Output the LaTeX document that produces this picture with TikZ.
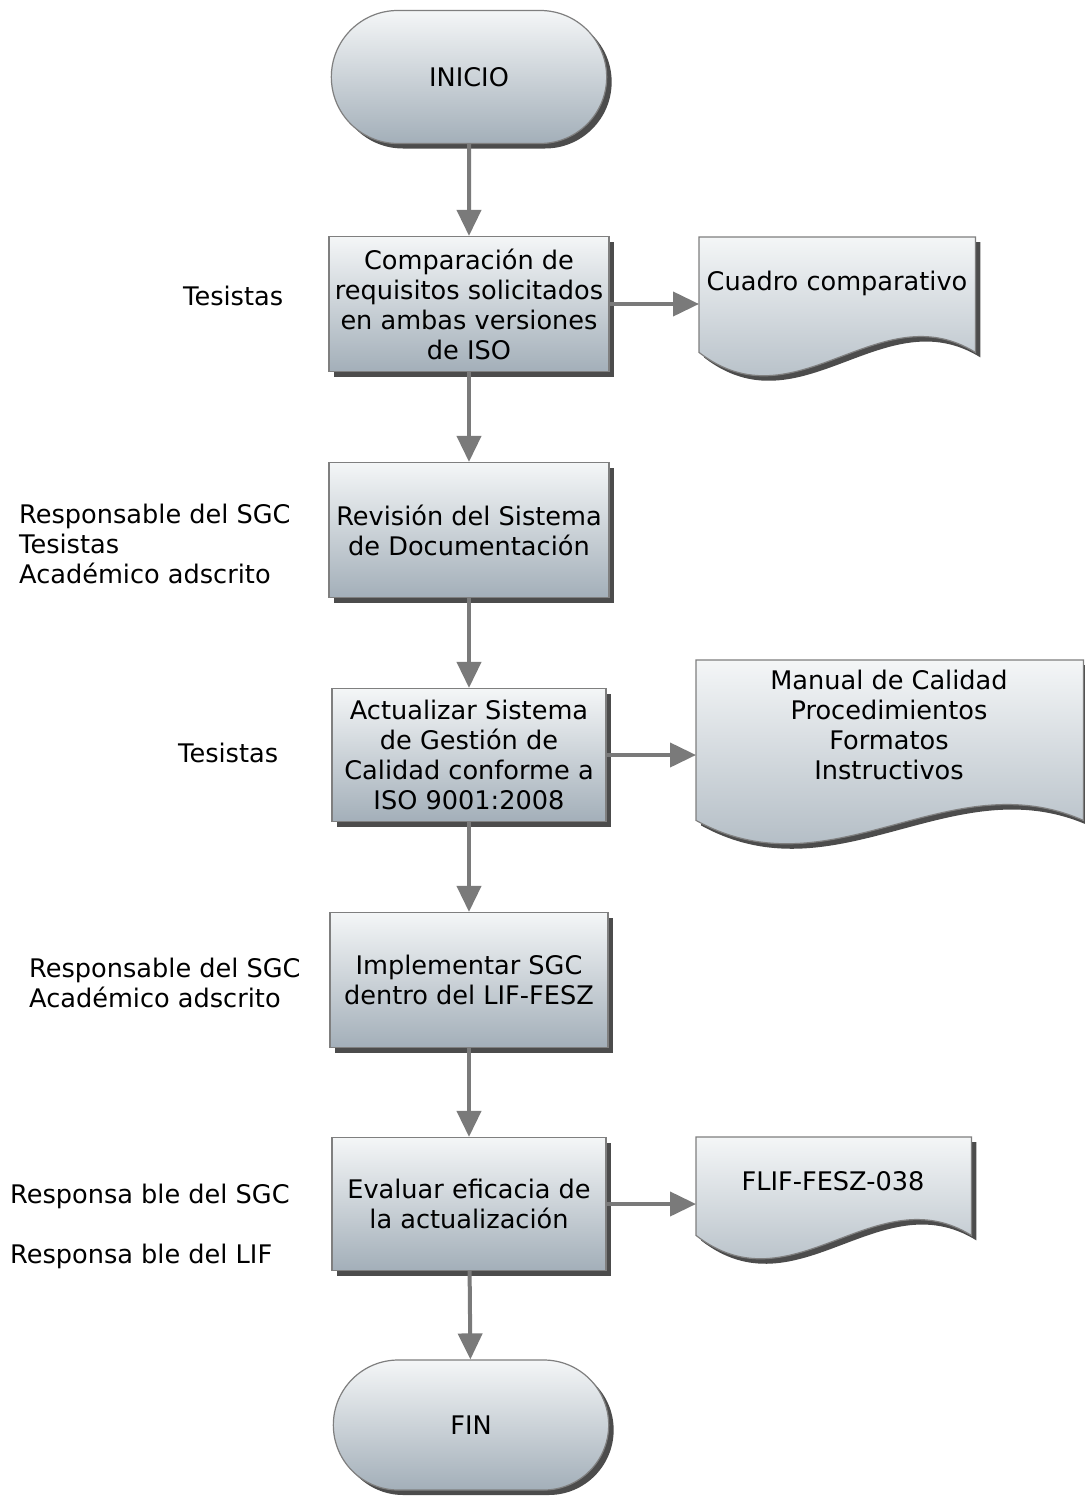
\documentclass[tikz,border=0pt]{standalone}
\usepackage{fontspec}
\setmainfont{DejaVu Sans}
\usetikzlibrary{arrows.meta, positioning, shapes.misc, shadows, calc, backgrounds}

\definecolor{boxtop}{HTML}{F4F6F7}
\definecolor{boxbot}{HTML}{A3AFB9}
\definecolor{edge}{HTML}{7F7F7F}
\definecolor{flowgray}{HTML}{7A7A7A}

\begin{document}
\begin{tikzpicture}[
    x=1pt, y=-1pt,
    font=\fontsize{25.6}{30}\selectfont,
    grad/.style={
        top color=boxtop,
        bottom color=boxbot,
        draw=edge,
        line width=1.2pt,
        drop shadow={shadow xshift=5pt, shadow yshift=-5pt, fill=black, opacity=0.7}
    },
    term/.style={grad, rounded rectangle, minimum width=282pt, minimum height=133pt},
    proc/.style={grad, rectangle, minimum width=278pt, minimum height=135pt, align=center, inner sep=2pt},
    doc/.style={rectangle, inner sep=0pt, anchor=north west},
    doctext/.style={align=center, inner sep=0pt},
    who/.style={anchor=west, align=left, inner sep=0pt},
    flow/.style={draw=flowgray, line width=4pt, -{Triangle[length=26pt, width=24pt]}}
]
\useasboundingbox (0,0) rectangle (1084,1496);

% main column
\node[term] (inicio) at (469,77) {INICIO};
\node[proc, minimum width=280pt] (comp) at (469,304) {Comparación de\\requisitos solicitados\\en ambas versiones\\de ISO};
\node[proc, minimum width=280pt] (revision) at (469,530) {Revisión del Sistema\\de Documentación};
\node[proc, minimum width=274pt, minimum height=133pt] (actualizar) at (469,755) {Actualizar Sistema\\de Gestión de\\Calidad conforme a\\ISO 9001:2008};
\node[proc] (implementar) at (469,980) {Implementar SGC\\dentro del LIF-FESZ};
\node[proc, minimum width=274pt, minimum height=133pt] (evaluar) at (469,1204) {Evaluar eficacia de\\la actualización};
\node[term, minimum height=130pt] (fin) at (471,1425) {FIN};

% documents
\node[doc, minimum width=276pt, minimum height=115pt] (cuadro) at (699,237) {};
\node[doc, minimum width=387pt, minimum height=160pt] (manual) at (696,660) {};
\node[doc, minimum width=275pt, minimum height=98pt] (flif) at (696,1137) {};
\node[doctext] (cuadrotxt) at (837,283) {Cuadro comparativo};
\node[doctext] (manualtxt) at (889,725) {Manual de Calidad\\Procedimientos\\Formatos\\Instructivos};
\node[doctext] (fliftxt) at (833,1181) {FLIF-FESZ-038};

% who does it
\node[who] (tes1) at (183,296) {Tesistas};
\node[who] (grp2) at (19,544) {Responsable del SGC\\Tesistas\\Académico adscrito};
\node[who] (tes3) at (178,753) {Tesistas};
\node[who] (grp4) at (29,983) {Responsable del SGC\\Académico adscrito};
\node[who] (grp5) at (10,1226) {Responsa ble del SGC\\[30pt]Responsa ble del LIF};

\begin{scope}[on background layer]
\fill[white] (0,0) rectangle (1084,1496);
\foreach \d in {cuadro, manual, flif}
    \path[grad] (\d.north west) -- (\d.north east) -- (\d.south east)
        .. controls ($(\d.south east)!0.35!(\d.south west)+(0,-60)$)
        and ($(\d.south west)!0.35!(\d.south east)+(0,75)$) .. (\d.south west) -- cycle;
\end{scope}

\draw[flow] (inicio) -- (comp);
\draw[flow] (comp) -- (revision);
\draw[flow] (revision) -- (actualizar);
\draw[flow] (actualizar) -- (implementar);
\draw[flow] (implementar) -- (evaluar);
\draw[flow] (evaluar) -- (fin);
\draw[flow] (comp.east) -- (comp.east -| cuadro.west);
\draw[flow] (actualizar.east) -- (actualizar.east -| manual.west);
\draw[flow] (evaluar.east) -- (evaluar.east -| flif.west);

\end{tikzpicture}
\end{document}
